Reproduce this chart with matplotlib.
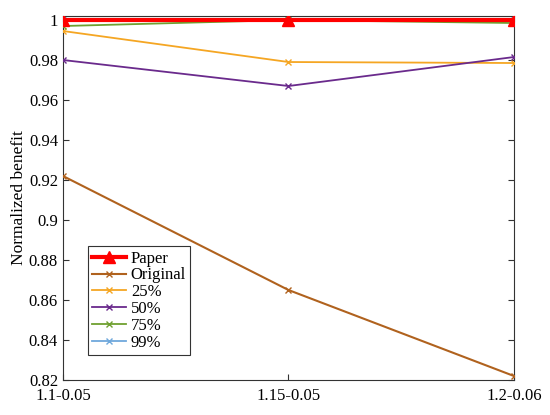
import matplotlib
matplotlib.use("Agg")
import matplotlib.pyplot as plt
from matplotlib.ticker import FuncFormatter

plt.rcParams['font.family'] = ['Liberation Serif', 'DejaVu Serif']

categories = ['1.1-0.05', '1.15-0.05', '1.2-0.06']
paper = [1.0, 1.0, 1.0]
original = [0.922, 0.865, 0.822]
p25 = [0.9945, 0.979, 0.9785]
p50 = [0.980, 0.967, 0.9815]
p75 = [0.997, 1.0, 0.9985]
p99 = [1.0, 1.0, 1.0]
yticks = [0.82, 0.84, 0.86, 0.88, 0.9, 0.92, 0.94, 0.96, 0.98, 1.0]

fig = plt.figure(figsize=(5.5, 4.15), dpi=100)
ax = fig.add_axes([0.1145, 0.0843, 0.82, 0.8771])
x = list(range(len(categories)))

ax.plot(x, original, color='#B0621E', marker='x', ms=5, lw=1.5, label='Original', zorder=3)
ax.plot(x, p25, color='#F5A623', marker='x', ms=5, lw=1.3, label='25%', zorder=3)
ax.plot(x, p50, color='#6A2A8C', marker='x', ms=5, lw=1.3, label='50%', zorder=3)
ax.plot(x, p75, color='#6FA030', marker='x', ms=5, lw=1.3, label='75%', zorder=3)
ax.plot(x, p99, color='#6FA8DC', marker='x', ms=5, lw=1.3, label='99%', zorder=2)
ax.plot(x, paper, color='#FF0000', marker='^', ms=8, lw=3, label='Paper', zorder=4)

ax.set_xlim(0, 2)
ax.set_ylim(0.82, 1.002)
ax.set_xticks(x)
ax.set_xticklabels(categories)
ax.set_yticks(yticks)
ax.yaxis.set_major_formatter(FuncFormatter(lambda v, p: '%g' % round(v, 2)))
ax.tick_params(direction='in', top=True, right=True, labelsize=12, length=4, color='#333333')
ax.tick_params(axis='x', pad=6)
for s in ax.spines.values():
    s.set_color('#333333')
    s.set_linewidth(0.8)
ax.set_ylabel('Normalized benefit', fontsize=12.5, labelpad=1)

h, l = ax.get_legend_handles_labels()
order = [5, 0, 1, 2, 3, 4]
leg = ax.legend([h[i] for i in order], [l[i] for i in order], loc='lower left',
                bbox_to_anchor=(0.045, 0.055), fontsize=12, fancybox=False,
                edgecolor='#333333', framealpha=1, handlelength=2.0,
                borderpad=0.25, labelspacing=0.05, handletextpad=0.3,
                borderaxespad=0.3)
leg.get_frame().set_linewidth(0.8)

fig.savefig('out.png', dpi=100)
